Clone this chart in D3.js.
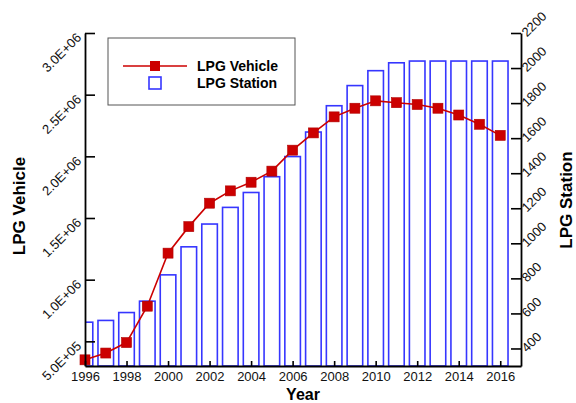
<!DOCTYPE html>
<html>
<head>
<meta charset="utf-8">
<script src="https://cdn.jsdelivr.net/npm/d3@7"></script>
<style>
  html, body { margin: 0; padding: 0; background: #fff; }
  svg { display: block; font-family: "Liberation Sans", Arial, sans-serif; }
</style>
</head>
<body>
<svg id="chart" width="576" height="403"></svg>
<script>
// LPG vehicles (left axis) and LPG filling stations (right axis), 1996-2016
const years = [1996, 1997, 1998, 1999, 2000, 2001, 2002, 2003, 2004, 2005, 2006,
               2007, 2008, 2009, 2010, 2011, 2012, 2013, 2014, 2015, 2016];
const vehicles = [350000, 405000, 490000, 785000, 1215000, 1430000, 1620000, 1720000,
                  1790000, 1880000, 2050000, 2190000, 2320000, 2390000, 2450000,
                  2435000, 2420000, 2390000, 2335000, 2260000, 2170000];
const stations = [550, 560, 605, 670, 820, 980, 1110, 1205, 1290, 1380, 1495,
                  1635, 1785, 1900, 1985, 2030, 2040, 2040, 2040, 2040, 2040];
const yearTicks = [1996, 1998, 2000, 2002, 2004, 2006, 2008, 2010, 2012, 2014, 2016];
const vehicleTicks = [500000, 1000000, 1500000, 2000000, 2500000, 3000000];
const stationTicks = [400, 600, 800, 1000, 1200, 1400, 1600, 1800, 2000, 2200];

const svg = d3.select("#chart");
const plotL = 85, plotR = 521, plotT = 33, plotB = 366;
const RED = "#cc0000", BLUE = "#3636ff";

const x = d3.scaleLinear().domain([1996, 2017]).range([plotL, plotR]);
const yV = d3.scaleLinear().domain([300000, 3000000]).range([plotB, plotT]);
const yS = d3.scaleLinear().domain([300, 2200]).range([plotB, plotT]);

const sci = v => {
  const e = Math.floor(Math.log10(v));
  return (v / Math.pow(10, e)).toFixed(1) + "E+" + String(e).padStart(2, "0");
};

svg.append("defs").append("clipPath").attr("id", "plot")
  .append("rect").attr("x", plotL).attr("y", plotT)
  .attr("width", plotR - plotL).attr("height", plotB - plotT);

// station bars (outlined), centred on each year
const barW = x(1996.75) - x(1996);
svg.append("g").attr("clip-path", "url(#plot)")
  .selectAll("rect").data(years).join("rect")
  .attr("x", (d) => x(d) - barW / 2)
  .attr("y", (d, i) => yS(stations[i]))
  .attr("width", barW)
  .attr("height", (d, i) => plotB - yS(stations[i]))
  .attr("fill", "none")
  .attr("stroke", BLUE)
  .attr("stroke-width", 1.6);

// vehicle line with square markers
const pts = years.map((d, i) => [x(d), yV(vehicles[i])]);
svg.append("path")
  .attr("d", d3.line()(pts))
  .attr("fill", "none").attr("stroke", RED).attr("stroke-width", 1.6);
const ms = 10;
svg.append("g").selectAll("rect").data(pts).join("rect")
  .attr("x", d => d[0] - ms / 2).attr("y", d => d[1] - ms / 2)
  .attr("width", ms).attr("height", ms)
  .attr("fill", RED).attr("stroke", "#b00000").attr("stroke-width", 0.6);

// axes
function styleAxis(g) {
  g.selectAll(".domain").attr("stroke", "#000").attr("stroke-width", 1.8);
  g.selectAll(".tick line").attr("stroke", "#000").attr("stroke-width", 1.6);
  g.selectAll("text").attr("fill", "#111").style("font-size", "13px")
    .style("font-family", "'Liberation Sans', Arial, sans-serif");
}

const gx = svg.append("g").attr("transform", `translate(0,${plotB})`)
  .call(d3.axisBottom(x).tickValues(yearTicks).tickFormat(d3.format("d"))
    .tickSizeInner(-5).tickSizeOuter(0).tickPadding(6));
styleAxis(gx);

const gl = svg.append("g").attr("transform", `translate(${plotL},0)`)
  .call(d3.axisLeft(yV).tickValues(vehicleTicks).tickFormat(sci)
    .tickSizeInner(-10).tickSizeOuter(0));
styleAxis(gl);
gl.selectAll("text")
  .attr("x", null).attr("dy", null)
  .attr("text-anchor", "end")
  .attr("transform", "translate(-3,5) rotate(-45)");

const gr = svg.append("g").attr("transform", `translate(${plotR},0)`)
  .call(d3.axisRight(yS).tickValues(stationTicks).tickFormat(d3.format("d"))
    .tickSizeInner(-10).tickSizeOuter(0));
styleAxis(gr);
gr.selectAll("text")
  .attr("x", null).attr("dy", null)
  .attr("text-anchor", "start")
  .attr("transform", "translate(6,4) rotate(-45)");

// axis titles
svg.append("text").attr("x", (plotL + plotR) / 2).attr("y", 400)
  .attr("text-anchor", "middle").style("font-size", "16px").style("font-weight", "bold")
  .text("Year");
svg.append("text").attr("transform", "translate(25,206) rotate(-90)")
  .attr("text-anchor", "middle").style("font-size", "17px").style("font-weight", "bold")
  .text("LPG Vehicle");
svg.append("text").attr("transform", "translate(572,200) rotate(-90)")
  .attr("text-anchor", "middle").style("font-size", "17px").style("font-weight", "bold")
  .text("LPG Station");

// legend
const lg = svg.append("g");
lg.append("rect").attr("x", 108).attr("y", 38).attr("width", 187).attr("height", 67)
  .attr("fill", "#fff").attr("stroke", "#555").attr("stroke-width", 1);
lg.append("line").attr("x1", 123).attr("x2", 187).attr("y1", 66).attr("y2", 66)
  .attr("stroke", RED).attr("stroke-width", 1.6);
lg.append("rect").attr("x", 155 - ms / 2).attr("y", 66 - ms / 2)
  .attr("width", ms).attr("height", ms).attr("fill", RED);
lg.append("rect").attr("x", 149).attr("y", 77).attr("width", 12).attr("height", 12)
  .attr("fill", "none").attr("stroke", BLUE).attr("stroke-width", 1.6);
lg.append("text").attr("x", 197).attr("y", 71)
  .style("font-size", "14px").style("font-weight", "bold").text("LPG Vehicle");
lg.append("text").attr("x", 197).attr("y", 88)
  .style("font-size", "14px").style("font-weight", "bold").text("LPG Station");
</script>
</body>
</html>
